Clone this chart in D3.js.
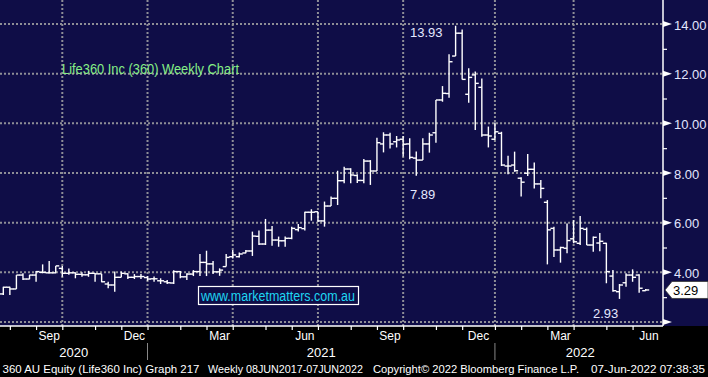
<!DOCTYPE html>
<html>
<head>
<meta charset="utf-8">
<script src="https://cdn.jsdelivr.net/npm/d3@7"></script>
<style>
  body { margin: 0; background: #000; }
  text { font-family: "Liberation Sans", Arial, sans-serif; }
</style>
</head>
<body>
<div id="chart"></div>
<script>
// weekly OHLC, Life360 (360 AU), Jul 2020 - Jun 2022
const opens  = [3.13,3.40,3.33,3.89,3.73,3.89,4.00,3.98,3.98,4.16,3.96,3.98,3.92,3.90,3.96,3.94,3.53,3.49,3.80,3.94,
                3.80,3.83,3.79,3.74,3.66,3.62,3.57,4.03,3.82,3.93,4.03,4.40,4.34,4.02,4.23,4.63,4.63,4.78,4.86,5.45,
                5.14,5.70,5.30,5.27,5.37,5.72,5.76,6.42,6.44,6.07,6.67,6.98,7.69,8.16,7.90,7.70,8.48,8.08,9.17,9.53,
                9.26,9.36,9.17,8.60,8.52,9.17,9.62,10.94,11.20,12.71,13.63,11.17,11.95,11.45,9.53,9.36,9.60,8.28,8.32,7.79,
                7.99,8.15,7.56,6.82,5.77,4.90,4.97,5.35,5.17,5.73,5.10,5.18,5.17,3.85,3.22,3.58,3.89,3.89,3.26];
const highs  = [3.42,3.42,3.89,3.96,3.90,4.05,4.32,4.46,4.26,4.26,4.15,4.00,4.00,4.06,3.96,3.94,3.62,4.03,4.03,3.96,
                3.93,3.93,3.85,3.83,3.76,3.69,4.08,4.05,3.96,4.09,4.74,4.87,4.46,4.16,4.74,4.90,4.80,4.90,5.64,5.68,
                6.15,5.87,5.44,5.44,5.84,5.95,6.44,6.54,6.44,6.85,7.05,8.09,8.25,8.19,7.95,8.56,8.52,9.42,9.64,9.62,
                9.49,9.49,9.40,8.87,9.40,9.62,10.94,11.50,12.78,13.93,13.78,12.22,12.09,11.81,9.87,10.03,9.66,8.69,8.86,7.83,
                8.77,8.42,7.72,6.91,5.84,5.03,5.97,6.10,6.27,5.81,5.44,5.58,5.19,4.09,3.53,3.96,4.12,3.92,3.33];
const lows   = [3.09,3.09,3.33,3.69,3.72,3.62,3.96,3.96,3.96,3.82,3.90,3.76,3.82,3.82,3.62,3.60,3.36,3.22,3.80,3.73,
                3.73,3.73,3.66,3.62,3.53,3.53,3.53,3.76,3.69,3.85,3.85,3.85,3.93,3.86,4.23,4.56,4.60,4.77,4.66,5.10,
                5.10,5.07,5.03,5.03,5.33,5.64,5.68,6.08,6.04,5.84,6.67,6.71,7.59,7.59,7.60,7.59,7.52,8.08,8.83,8.99,
                9.03,8.66,8.55,7.89,8.52,8.82,9.22,10.87,11.03,12.71,11.77,10.83,9.73,9.46,9.03,9.33,8.28,7.95,8.05,7.05,
                7.88,7.38,6.98,4.32,4.62,4.39,4.77,5.17,5.10,5.10,4.83,4.85,3.56,3.22,2.93,3.42,3.62,3.18,3.26];
const closes = [3.40,3.33,3.89,3.73,3.89,4.03,4.00,3.98,4.26,3.96,3.98,3.92,3.90,3.96,3.94,3.62,3.49,3.80,3.96,3.80,
                3.83,3.83,3.73,3.74,3.66,3.58,4.03,3.82,3.93,4.03,4.40,4.34,4.02,4.09,4.60,4.70,4.74,4.86,5.46,5.14,
                5.70,5.30,5.27,5.37,5.77,5.80,6.42,6.42,6.07,6.67,6.98,7.69,8.16,7.92,7.70,8.48,8.08,9.22,9.53,9.17,
                9.33,9.16,8.63,8.52,9.17,9.53,10.94,11.21,12.48,13.63,11.77,11.85,11.61,9.53,9.49,9.66,8.32,8.28,8.09,7.63,
                8.15,7.56,7.38,5.71,4.90,5.00,5.28,5.23,5.77,5.10,5.41,5.25,4.03,3.26,3.49,3.89,3.80,3.36,3.29];

// month boundaries as bar index, quarter grid, labels
const monthStarts = [1,5,9,14,18,22,27,31,35,40,44,48,53,57,61,66,70,75,79,83,87,92,96];
const quarterGrid = [9,22,35,48,61,75,87];
const monthNames  = ["Sep","Dec","Mar","Jun","Sep","Dec","Mar","Jun"];
const monthFrom   = [5,18,31,44,57,70,83,96];
const monthTo     = [9,22,35,48,61,75,87,101];
const yearNames   = ["2020","2021","2022"];
const yearFrom    = [-0.5,22,75];
const yearTo      = [22,75,101];
const yMajor = [2,4,6,8,10,12,14];
const yMinor = [3,5,7,9,11,13];
const lastPrice = 3.29;
const callouts = [{t:"13.93", i:69, v:13.93}, {t:"7.89", i:63, v:7.89}, {t:"2.93", i:94, v:2.93}];

const W = 708, H = 377;
const plotR = 663, plotB = 326;
const bg = "#0f0d47";

const svg = d3.select("#chart").append("svg")
  .attr("width", W).attr("height", H);

svg.append("rect").attr("width", W).attr("height", plotB).attr("fill", bg);
svg.append("rect").attr("y", plotB).attr("width", W).attr("height", H - plotB).attr("fill", "#000");

const x = d3.scaleLinear().domain([0, 98]).range([3.3, 645.7]);
const y = d3.scaleLinear().domain([2, 14]).range([322, 24]);

// grid
const grid = svg.append("g").attr("stroke", "#8e8e96").attr("stroke-width", 2).attr("stroke-dasharray", "2,2");
grid.selectAll("line.h").data(yMajor).join("line")
  .attr("x1", 0).attr("x2", plotR).attr("y1", d => y(d)).attr("y2", d => y(d));
grid.selectAll("line.v").data(quarterGrid).join("line")
  .attr("x1", d => x(d)).attr("x2", d => x(d)).attr("y1", 0).attr("y2", plotB);

// title
svg.append("text").attr("x", 62).attr("y", 74)
  .attr("textLength", 177).attr("lengthAdjust", "spacingAndGlyphs")
  .style("font-size", "15px").attr("fill", "#86ef86")
  .text("Life360 Inc (360) Weekly Chart");

// watermark box
svg.append("rect").attr("x", 198.5).attr("y", 286.5).attr("width", 160).attr("height", 18)
  .attr("fill", bg).attr("stroke", "#fff").attr("stroke-width", 1.2);
svg.append("text").attr("x", 201).attr("y", 301)
  .attr("textLength", 154).attr("lengthAdjust", "spacingAndGlyphs")
  .style("font-size", "14px").attr("fill", "#1ed6f2")
  .text("www.marketmatters.com.au");

// OHLC bars
const idx = d3.range(closes.length);
const bars = svg.append("g").attr("stroke", "#fff").attr("stroke-width", 1.4);
bars.selectAll("line.hl").data(idx).join("line")
  .attr("x1", i => x(i)).attr("x2", i => x(i))
  .attr("y1", i => y(highs[i])).attr("y2", i => y(lows[i]));
bars.selectAll("line.o").data(idx).join("line")
  .attr("x1", i => x(i) - 3.5).attr("x2", i => x(i))
  .attr("y1", i => y(opens[i])).attr("y2", i => y(opens[i]));
bars.selectAll("line.c").data(idx).join("line")
  .attr("x1", i => x(i)).attr("x2", i => x(i) + 3.5)
  .attr("y1", i => y(closes[i])).attr("y2", i => y(closes[i]));

// high / low callouts
const calloutX = {"13.93": 410, "7.89": 410, "2.93": 593};
const calloutDy = {"13.93": 11, "7.89": 23, "2.93": 19};
svg.selectAll("text.call").data(callouts).join("text")
  .attr("x", d => calloutX[d.t]).attr("y", d => y(d.v) + calloutDy[d.t])
  .style("font-size", "13px").attr("fill", "#e4e8ff")
  .text(d => d.t);

// right axis
svg.append("line").attr("x1", plotR).attr("x2", plotR).attr("y1", 0).attr("y2", plotB)
  .attr("stroke", "#fff").attr("stroke-width", 1.5);
const yAxis = svg.append("g").attr("transform", `translate(${plotR},0)`)
  .call(d3.axisRight(y).tickValues(yMinor).tickSize(4).tickFormat(""));
yAxis.select(".domain").remove();
yAxis.selectAll("line").attr("stroke", "#fff").attr("stroke-width", 1.2);
svg.selectAll("path.arrow").data(yMajor).join("path")
  .attr("d", d => `M${plotR},${y(d) - 3}L${plotR + 9},${y(d)}L${plotR},${y(d) + 3}Z`)
  .attr("fill", "#fff");
svg.selectAll("text.ylab").data(yMajor.filter(d => d > 2)).join("text")
  .attr("x", 674).attr("y", d => y(d) + 5.5)
  .style("font-size", "13px").attr("fill", "#e2e6ff")
  .text(d => d.toFixed(2));

// last price tag
const ly = y(lastPrice);
svg.append("path")
  .attr("d", `M665,${ly}L672,${ly - 8.5}L708,${ly - 8.5}L708,${ly + 8.5}L672,${ly + 8.5}Z`)
  .attr("fill", "#fff").attr("stroke", "#333").attr("stroke-width", 0.8);
svg.append("text").attr("x", 673).attr("y", ly + 5)
  .style("font-size", "13px").attr("fill", "#000").text(lastPrice.toFixed(2));

// bottom axis
const xAxis = svg.append("g").attr("transform", `translate(0,${plotB})`)
  .call(d3.axisBottom(x).tickValues(monthStarts).tickSize(4).tickFormat(""));
xAxis.select(".domain").remove();
xAxis.selectAll("line").attr("stroke", "#fff").attr("stroke-width", 1.2);
svg.append("line").attr("x1", 0).attr("x2", plotR).attr("y1", plotB).attr("y2", plotB)
  .attr("stroke", "#fff").attr("stroke-width", 1.5);

svg.selectAll("text.month").data(monthNames).join("text")
  .attr("x", (d, i) => x((monthFrom[i] + monthTo[i]) / 2)).attr("y", 340)
  .attr("text-anchor", "middle").style("font-size", "12px").attr("fill", "#fff")
  .text(d => d);

svg.selectAll("text.year").data(yearNames).join("text")
  .attr("x", (d, i) => x((yearFrom[i] + yearTo[i]) / 2)).attr("y", 357)
  .attr("text-anchor", "middle").style("font-size", "13px").attr("fill", "#fff")
  .text(d => d);
svg.selectAll("line.ysep").data(yearFrom.slice(1)).join("line")
  .attr("x1", d => x(d)).attr("x2", d => x(d)).attr("y1", 343).attr("y2", 360)
  .attr("stroke", "#888").attr("stroke-width", 1);

// footer
const footer = [
  {t: "360 AU Equity (Life360 Inc) Graph 217", x: 2.5, w: 197},
  {t: "Weekly 08JUN2017-07JUN2022", x: 208, w: 155},
  {t: "Copyright\u00a9 2022 Bloomberg Finance L.P.", x: 373, w: 206},
  {t: "07-Jun-2022 07:38:35", x: 591, w: 114}
];
svg.selectAll("text.foot").data(footer).join("text")
  .attr("x", d => d.x).attr("y", 373)
  .attr("textLength", d => d.w).attr("lengthAdjust", "spacingAndGlyphs")
  .style("font-size", "11.5px").attr("fill", "#fff")
  .text(d => d.t);
</script>
</body>
</html>
